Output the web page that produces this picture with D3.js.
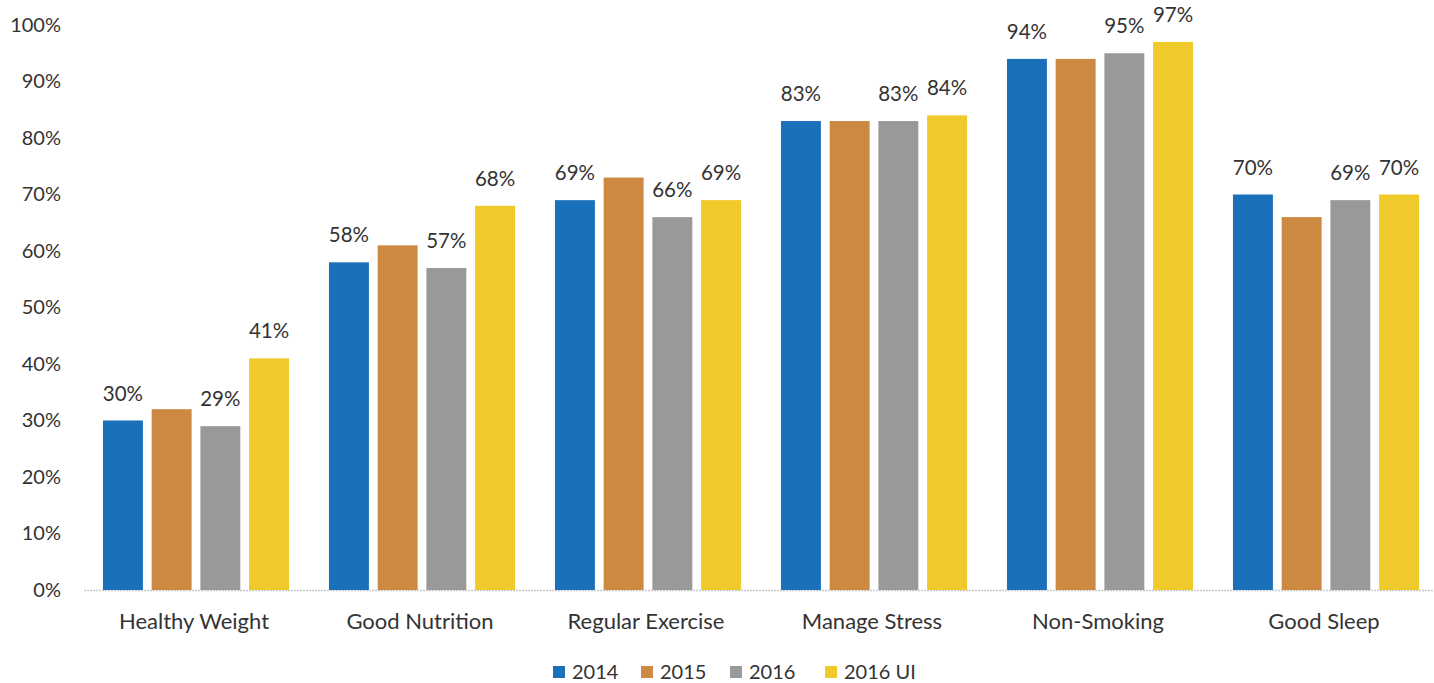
<!DOCTYPE html>
<html>
<head>
<meta charset="utf-8">
<script src="https://cdn.jsdelivr.net/npm/d3@7"></script>
<style>
  body { margin: 0; background: #fff; }
  svg { display: block; }
</style>
</head>
<body>
<div id="chart"></div>
<script>
// data
var categories = ["Healthy Weight", "Good Nutrition", "Regular Exercise", "Manage Stress", "Non-Smoking", "Good Sleep"];
var seriesNames = ["2014", "2015", "2016", "2016 UI"];
var values2014 = [30, 58, 69, 83, 94, 70];
var values2015 = [32, 61, 73, 83, 94, 66];
var values2016 = [29, 57, 66, 83, 95, 69];
var values2016UI = [41, 68, 69, 84, 97, 70];
var labelledSeries = ["2014", "2016", "2016 UI"];
var yTicks = [0, 10, 20, 30, 40, 50, 60, 70, 80, 90, 100];

var colors = {"2014": "#1a71ba", "2015": "#cd8842", "2016": "#999999", "2016 UI": "#f0c92a"};
var allValues = [values2014, values2015, values2016, values2016UI];

var W = 1434, H = 683;
var FONT = "Lato, 'Open Sans', sans-serif";
var TEXT = "#333333";

var svg = d3.select("#chart")
  .append("svg")
  .attr("width", W)
  .attr("height", H);

// scales
var x0 = d3.scaleBand()
  .domain(categories)
  .range([83, 1439]);

var x1 = d3.scaleBand()
  .domain(seriesNames)
  .range([0, x0.bandwidth()])
  .paddingInner(0.18)
  .paddingOuter(0.41);

var y = d3.scaleLinear()
  .domain([0, 100])
  .range([590, 25]);

// y axis labels
svg.append("g")
  .attr("transform", "translate(61,0)")
  .call(d3.axisLeft(y).tickValues(yTicks).tickSize(0).tickPadding(0).tickFormat(d => d + "%"))
  .call(g => g.select(".domain").remove())
  .selectAll("text")
  .attr("font-family", FONT)
  .attr("font-size", "20px")
  .attr("fill", TEXT);

// baseline
svg.append("line")
  .attr("x1", 84).attr("x2", W)
  .attr("y1", y(0) + 0.5).attr("y2", y(0) + 0.5)
  .attr("stroke", "#c8c8c8")
  .attr("stroke-width", 1.5)
  .attr("stroke-dasharray", "2,1");

// table for bars
var rows = [];
categories.forEach((c, i) => {
  seriesNames.forEach((s, j) => {
    rows.push({cat: c, series: s, value: allValues[j][i]});
  });
});

svg.selectAll("rect.bar")
  .data(rows)
  .enter()
  .append("rect")
  .attr("class", "bar")
  .attr("x", d => x0(d.cat) + x1(d.series))
  .attr("y", d => y(d.value))
  .attr("width", x1.bandwidth())
  .attr("height", d => y(0) - y(d.value))
  .attr("fill", d => colors[d.series]);

// value labels
svg.selectAll("text.val")
  .data(rows.filter(d => labelledSeries.indexOf(d.series) >= 0))
  .enter()
  .append("text")
  .attr("class", "val")
  .attr("x", d => x0(d.cat) + x1(d.series) + x1.bandwidth() / 2)
  .attr("y", d => y(d.value) - 20)
  .attr("text-anchor", "middle")
  .attr("font-family", FONT)
  .attr("font-size", "20.5px")
  .attr("fill", TEXT)
  .text(d => d.value + "%");

// category labels
svg.append("g")
  .attr("transform", "translate(-2," + y(0) + ")")
  .call(d3.axisBottom(x0).tickSize(0).tickPadding(23))
  .call(g => g.select(".domain").remove())
  .selectAll("text")
  .attr("font-family", FONT)
  .attr("font-size", "22px")
  .attr("fill", TEXT);

// legend
var legendX = [553, 641, 730, 825];
var legend = svg.selectAll("g.legend")
  .data(seriesNames)
  .enter()
  .append("g")
  .attr("class", "legend")
  .attr("transform", (d, i) => "translate(" + legendX[i] + ",666)");

legend.append("rect")
  .attr("width", 12)
  .attr("height", 12)
  .attr("fill", d => colors[d]);

legend.append("text")
  .attr("x", 19)
  .attr("y", 13)
  .attr("font-family", FONT)
  .attr("font-size", "20px")
  .attr("fill", TEXT)
  .text(d => d);
</script>
</body>
</html>
